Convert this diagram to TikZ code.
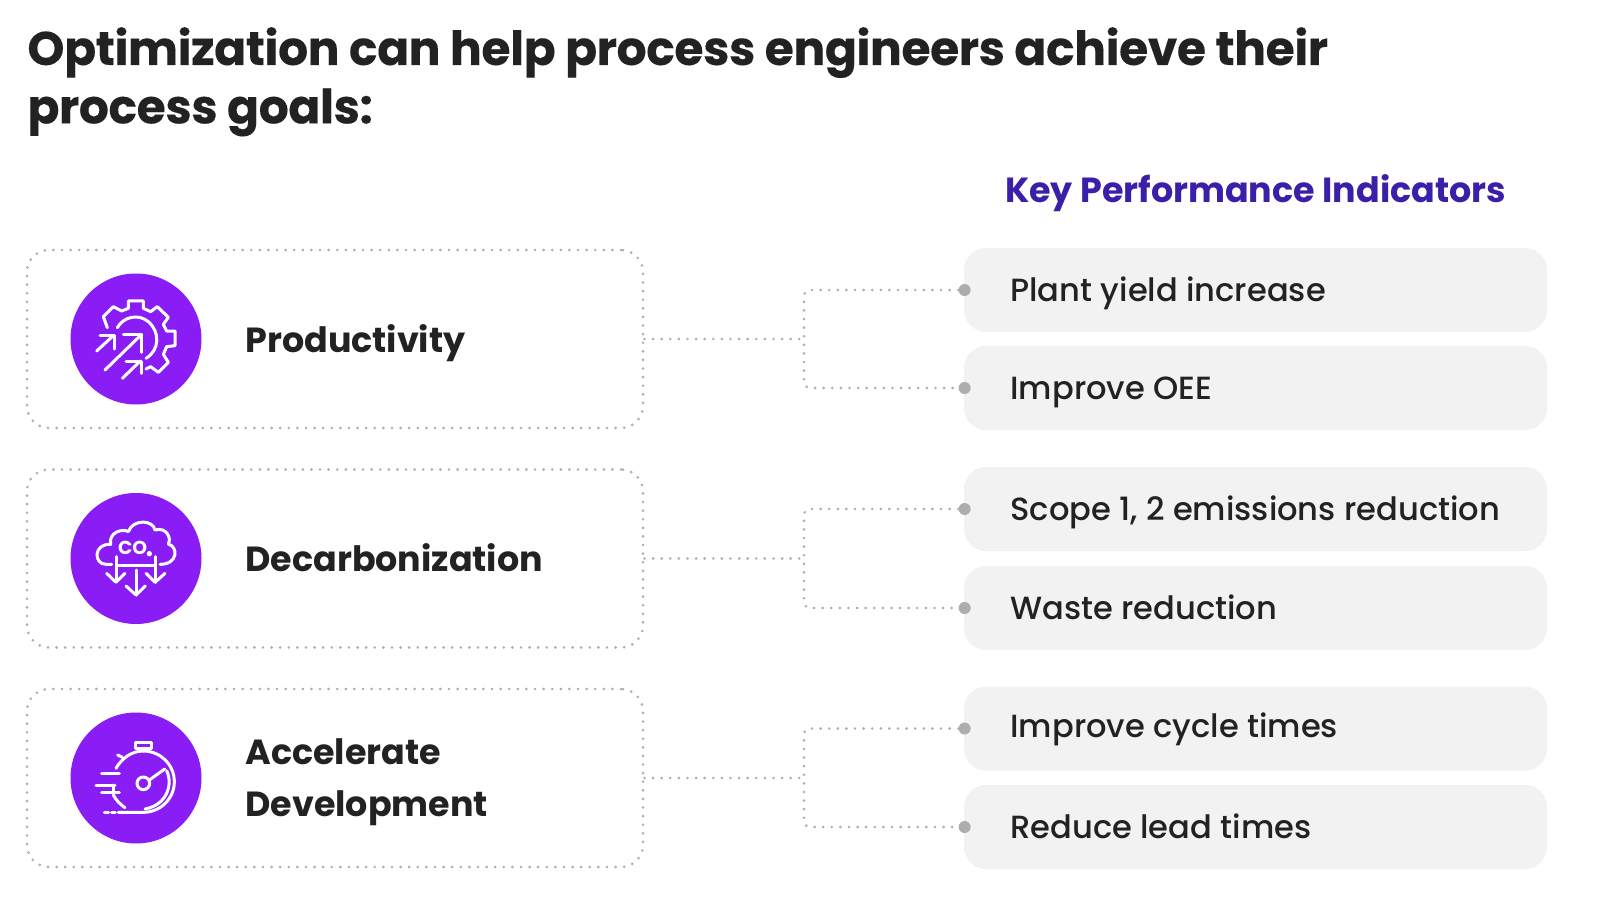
\documentclass[tikz,border=0pt]{standalone}
\usepackage{fontspec}
\setmainfont{Poppins}[BoldFont={Poppins Bold}]
\newfontfamily\medfont{Poppins Medium}
\newfontfamily\titlefont{Poppins Bold}[LetterSpace=-0.85,FakeBold=0.15]
\definecolor{ink}{HTML}{222222}
\definecolor{kpi}{HTML}{3A1FA8}
\definecolor{vio}{HTML}{8A1CF5}
\definecolor{pillbg}{HTML}{F2F2F2}
\definecolor{dotc}{HTML}{ADADAD}
\tikzset{
  goalbox/.style={draw=dotc,line width=1.45pt,dash pattern=on 0pt off 4.3pt,line cap=round,rounded corners=11pt,minimum width=308pt,minimum height=89pt,inner sep=0pt},
  pill/.style={fill=pillbg,rounded corners=11pt,minimum width=291.5pt,minimum height=42pt,inner sep=0pt},
  conn/.style={draw=dotc,line width=1.45pt,dash pattern=on 0pt off 4.3pt,line cap=round,rounded corners=3pt},
  enddot/.style={circle,fill=dotc,minimum size=6pt,inner sep=0pt,xshift=0.5pt},
  disc/.style={circle,fill=vio,minimum size=65.5pt,inner sep=0pt},
  goal/.style={anchor=base west,inner sep=0pt,font=\fontsize{17.45}{22}\selectfont\bfseries,text=ink},
  kpitext/.style={anchor=base west,inner sep=0pt,font=\fontsize{16.05}{20}\medfont,text=ink},
  ico/.style={draw=white,line width=1.5pt,line cap=round,line join=round},
  zoomed/.style={x=0.16667pt,y=-0.16667pt},
}
\begin{document}
\begin{tikzpicture}[x=0.5pt,y=-0.5pt]
\useasboundingbox[fill=white] (0,0) rectangle (1600,903);
\node[anchor=base west,inner sep=0pt,font=\fontsize{23.6}{29.2}\titlefont,text=ink,align=left,text width=720pt] (title) at (27,65) {\spaceskip=0.2em\relax Optimization can help process engineers achieve their\\process goals:};
\node[anchor=base,inner sep=0pt,font=\fontsize{17.45}{22}\selectfont\bfseries,text=kpi] (kpih) at (1255.5,203) {Key Performance Indicators};

\node[goalbox] (b1) at (335,339) {};
\node[goalbox] (b2) at (335,558.5) {};
\node[goalbox] (b3) at (335,778) {};

\node[pill] (p1) at (1255.5,290) {};
\node[pill] (p2) at (1255.5,388) {};
\node[pill] (p3) at (1255.5,509) {};
\node[pill] (p4) at (1255.5,608) {};
\node[pill] (p5) at (1255.5,728.5) {};
\node[pill] (p6) at (1255.5,827) {};

\node[enddot] (d1) at (p1.west) {};
\node[enddot] (d2) at (p2.west) {};
\node[enddot] (d3) at (p3.west) {};
\node[enddot] (d4) at (p4.west) {};
\node[enddot] (d5) at (p5.west) {};
\node[enddot] (d6) at (p6.west) {};

\coordinate (j1) at (804,339);
\coordinate (j2) at (804,558.5);
\coordinate (j3) at (804,778);
\draw[conn] (b1.east) -- (j1);
\draw[conn] (b2.east) -- (j2);
\draw[conn] (b3.east) -- (j3);
\draw[conn] (d1) -| (j1) |- (d2);
\draw[conn] (d3) -| (j2) |- (d4);
\draw[conn] (d5) -| (j3) |- (d6);

\node[disc] (c1) at (136,339) {};
\node[disc] (c2) at (136,558.5) {};
\node[disc] (c3) at (136,778) {};

\node[goal] (g1) at (245,353) {Productivity};
\node[goal] (g2) at (245,571) {Decarbonization};
\node[goal] (g3a) at (245,764) {Accelerate};
\node[goal] (g3b) at (245,816.5) {Development};

\node[kpitext] (t1) at (1010,302) {Plant yield increase};
\node[kpitext] (t2) at (1010,400) {Improve OEE};
\node[kpitext] (t3) at (1010,520.5) {Scope 1, 2 emissions reduction};
\node[kpitext] (t4) at (1010,619) {Waste reduction};
\node[kpitext] (t5) at (1010,737) {Improve cycle times};
\node[kpitext] (t6) at (1010,838) {Reduce lead times};

% gear icon
\begin{scope}[shift={(60,265)},zoomed]
\draw[ico] (142,188) -- (130,155) -- (160,125) -- (185,138) -- (205,130) -- (205,108) -- (250,108) -- (250,130) -- (272,140) -- (292,125) -- (325,157) -- (310,178) -- (320,198) -- (345,198) -- (345,242) -- (320,245) -- (310,268) -- (325,292) -- (295,322) -- (272,305) -- (258,312);
\draw[ico] (172,188) .. controls (190,155) and (235,145) .. (265,170) .. controls (300,200) and (300,255) .. (258,280);
\draw[ico] (135,315) -- (245,208);
\draw[ico] (190,208) -- (245,208) -- (245,262);
\draw[ico] (110,258) -- (160,212);
\draw[ico] (120,212) -- (162,212) -- (162,252);
\draw[ico] (187,340) -- (241,288);
\draw[ico] (198,288) -- (243,288) -- (243,325);
\end{scope}
% cloud icon
\begin{scope}[shift={(60,485)},zoomed]
\draw[ico] (155,238) -- (138,238) .. controls (100,238) and (100,175) .. (152,178) .. controls (145,140) and (190,130) .. (205,140) .. controls (220,100) and (280,105) .. (285,135) .. controls (320,125) and (335,160) .. (325,177) .. controls (355,185) and (355,238) .. (300,238);
\draw[ico] (170,240) -- (280,240);
\draw[ico] (168,215) -- (168,290);
\draw[ico] (140,265) -- (168,292) -- (195,265);
\draw[ico] (228,255) -- (228,330);
\draw[ico] (198,303) -- (228,330) -- (256,303);
\draw[ico] (285,215) -- (285,292);
\draw[ico] (258,265) -- (285,292) -- (315,265);
\fill[white] (268,206) circle (8);
\node[inner sep=0pt,font=\fontsize{9.4}{9}\selectfont\bfseries,text=white] (co) at (218,190) {CO};
\end{scope}
% stopwatch icon
\begin{scope}[shift={(60,705)},zoomed]
\draw[ico] (175,322) -- (250,322) .. controls (301,322) and (343,281) .. (343,230) .. controls (343,179) and (301,138) .. (250,138) .. controls (215,138) and (185,160) .. (168,190);
\draw[ico] (320,197) .. controls (340,240) and (320,300) .. (255,312);
\draw[ico] (160,270) .. controls (168,285) and (180,298) .. (195,308);
\draw[ico] (225,113) rectangle (275,131);
\draw[ico] (250,131) -- (250,138);
\draw[ico] (173,150) -- (187,157);
\draw[ico] (250,235) circle (19);
\draw[ico] (268,225) -- (314,192);
\draw[ico] (125,204) -- (178,204);
\draw[ico] (108,240) -- (165,240);
\draw[ico] (125,262) -- (178,262);
\draw[ico] (160,240) -- (160,262);
\draw[ico] (133,323) -- (146,323);
\draw[ico] (155,323) -- (166,323);
\end{scope}
\end{tikzpicture}
\end{document}
